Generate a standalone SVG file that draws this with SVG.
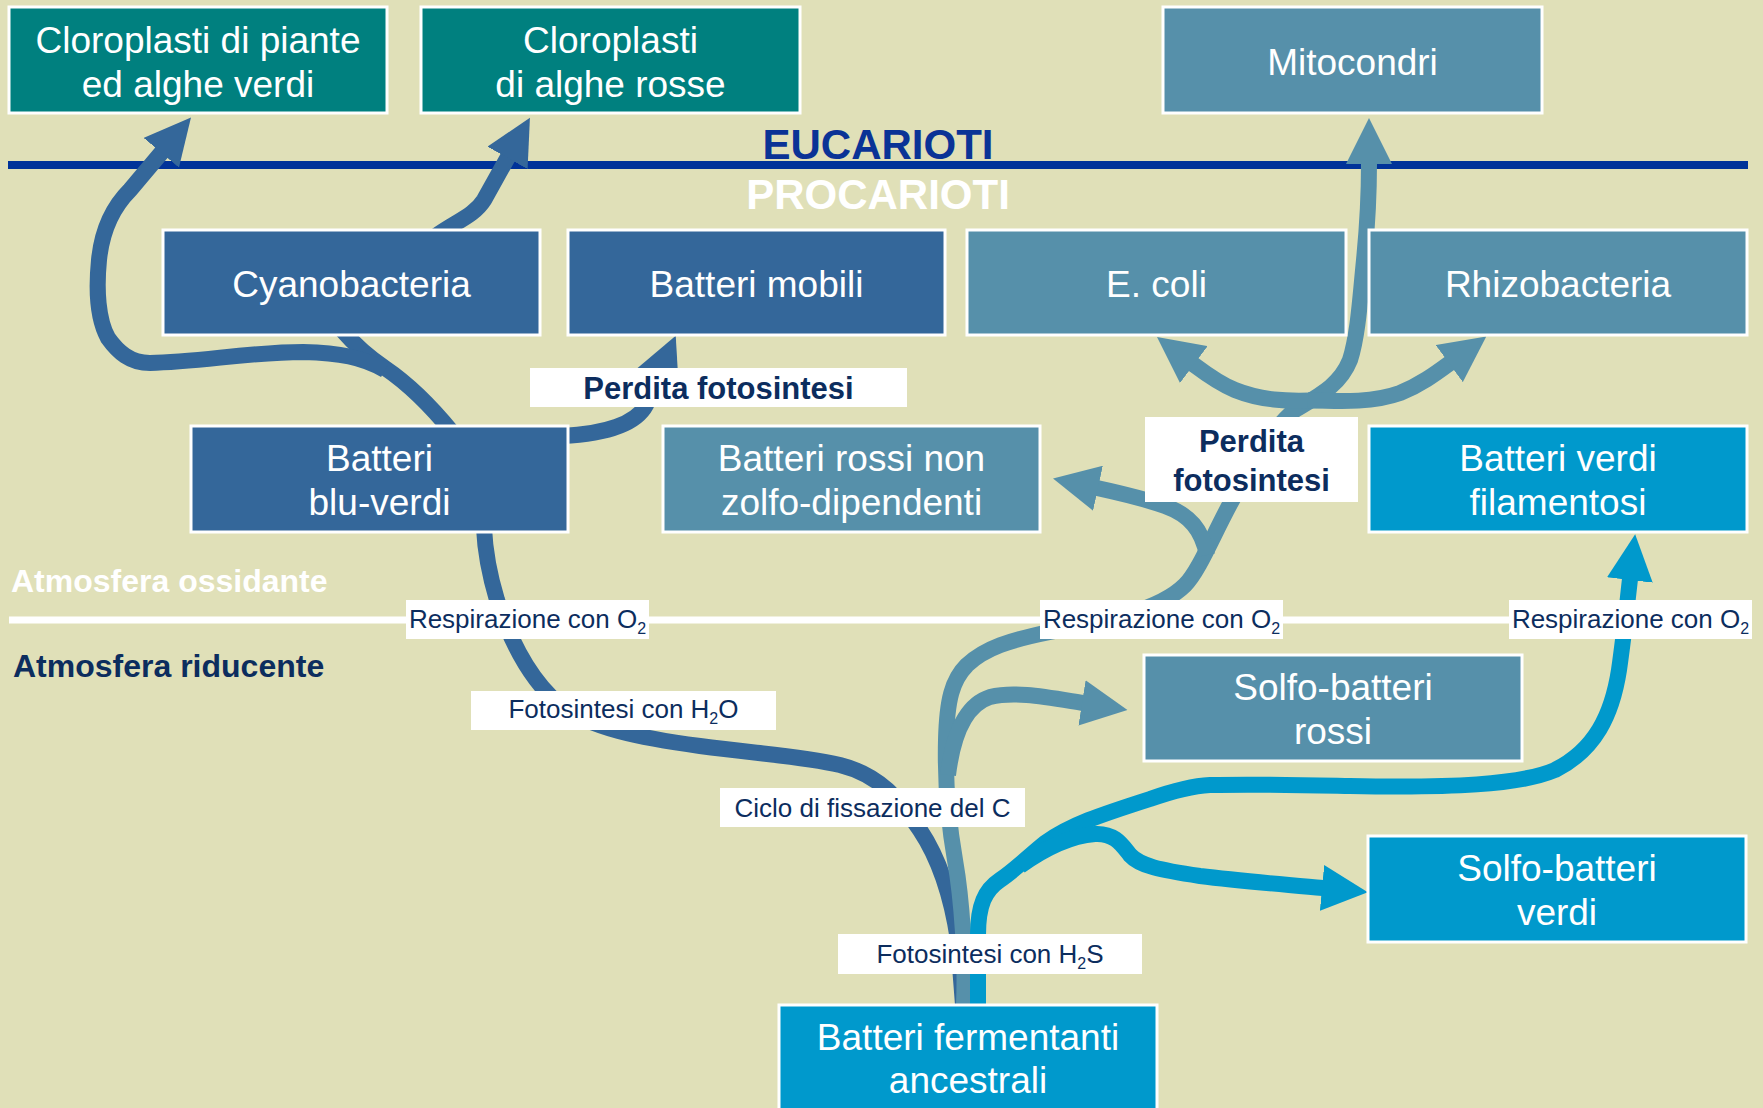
<svg xmlns="http://www.w3.org/2000/svg" width="1763" height="1108" viewBox="0 0 1763 1108">
<defs>
<style>
.bg{fill:#E0E0B8}
.box{stroke:#FFFFFF;stroke-width:3}
.teal{fill:#00807F}
.dark{fill:#34679A}
.steel{fill:#5690AA}
.bright{fill:#0099CC}
.nt{font-family:"Liberation Sans",Arial,sans-serif;font-size:37px;fill:#FFFFFF;text-anchor:middle}
.lb{fill:#FFFFFF}
.lt{font-family:"Liberation Sans",Arial,sans-serif;font-size:26px;fill:#0C2D5E;text-anchor:middle}
.sub{font-size:16px}
.pf{font-family:"Liberation Sans",Arial,sans-serif;font-size:31px;font-weight:bold;fill:#0C2D5E;text-anchor:middle}
.hd{font-family:"Liberation Sans",Arial,sans-serif;font-weight:bold}
.rib{fill:none;stroke-width:16;stroke-linecap:butt;stroke-linejoin:round}
.r-dark{stroke:#34679A}
.r-steel{stroke:#5690AA}
.r-bright{stroke:#0099CC}
</style>
<marker id="ah-dark" markerUnits="userSpaceOnUse" viewBox="0 0 46 46" markerWidth="46" markerHeight="46" refX="1" refY="23" orient="auto"><path d="M0,0 L46,23 L0,46 Z" fill="#34679A"/></marker>
<marker id="ah-steel" markerUnits="userSpaceOnUse" viewBox="0 0 46 46" markerWidth="46" markerHeight="46" refX="1" refY="23" orient="auto"><path d="M0,0 L46,23 L0,46 Z" fill="#5690AA"/></marker>
<marker id="ah-bright" markerUnits="userSpaceOnUse" viewBox="0 0 46 46" markerWidth="46" markerHeight="46" refX="1" refY="23" orient="auto"><path d="M0,0 L46,23 L0,46 Z" fill="#0099CC"/></marker>
</defs>

<rect class="bg" x="0" y="0" width="1763" height="1108"/>

<g id="dividers">
<line x1="8" y1="165" x2="1748" y2="165" stroke="#003399" stroke-width="8"/>
<line x1="9" y1="620" x2="1752" y2="620" stroke="#FFFFFF" stroke-width="7"/>
<text class="hd" x="878" y="159" font-size="42" fill="#0A3396" text-anchor="middle">EUCARIOTI</text>
<text class="hd" x="878" y="209" font-size="42" fill="#FFFFFF" text-anchor="middle">PROCARIOTI</text>
<text class="hd" x="11" y="592" font-size="32" fill="#FFFFFF">Atmosfera ossidante</text>
<text class="hd" x="13" y="677" font-size="32" fill="#0C2D5E">Atmosfera riducente</text>
</g>

<g id="connectors">
<!-- dark blue lineage -->
<path class="rib r-dark" d="M963,1005 L958,940 C952,900 940,860 920,830 C900,800 880,775 840,765 C800,756 760,754 700,746 C640,738 590,728 560,705 C530,680 510,640 497,600 C488,570 485,550 484,528"/>
<path class="rib r-dark" d="M452,432 C430,405 410,385 385,368 C370,358 355,345 342,330"/>
<path class="rib r-dark" marker-end="url(#ah-dark)" d="M385,370 C362,357 340,353 303,352 C250,352 200,362 150,363 C130,363 118,352 108,338 C98,320 96,290 99,260 C102,230 113,207 130,190 L162,152"/>
<path class="rib r-dark" marker-end="url(#ah-dark)" d="M436,236 C455,222 474,216 484,200 L508,157"/>
<path class="rib r-dark" marker-end="url(#ah-dark)" d="M562,436 C605,434 636,424 646,405 L658,377"/>
<!-- steel lineage -->
<path class="rib r-steel" marker-end="url(#ah-steel)" d="M964,1005 C966,960 962,900 955,860 C948,820 945,780 946,740 C947,700 952,680 967,665 C985,648 1010,640 1050,632 C1110,620 1160,610 1185,585 C1200,570 1215,530 1235,495 C1250,470 1270,430 1295,410 C1320,395 1340,385 1350,360 C1358,335 1360,300 1364,260 C1367,230 1369,200 1369,163"/>
<path class="rib r-steel" marker-end="url(#ah-steel)" d="M1207,555 C1202,530 1190,515 1165,506 C1145,499 1120,493 1097,488"/>
<path class="rib r-steel" marker-end="url(#ah-steel)" d="M1322,400 C1285,402 1260,400 1235,390 C1218,383 1205,373 1193,364"/>
<path class="rib r-steel" marker-end="url(#ah-steel)" d="M1308,400 C1345,402 1375,402 1400,393 C1420,385 1435,374 1450,363"/>
<path class="rib r-steel" marker-end="url(#ah-steel)" d="M948,775 C953,735 965,705 990,697 C1015,691 1045,697 1083,703"/>
<!-- bright lineage -->
<path class="rib r-bright" marker-end="url(#ah-bright)" d="M978,1005 L978,935 C978,905 985,890 1000,880 C1015,870 1030,855 1045,843 C1070,825 1100,815 1150,799 C1170,792 1190,786 1210,785 C1260,784 1300,785 1350,786 C1450,788 1520,785 1555,770 C1595,750 1612,715 1619,670 C1624,635 1627,605 1630,579"/>
<path class="rib r-bright" marker-end="url(#ah-bright)" d="M1020,866 C1045,848 1070,836 1095,834 C1115,833 1122,845 1130,855 C1140,866 1160,870 1200,876 C1240,881 1280,884 1323,888"/>
</g>

<g id="n-cloroplasti-piante"><rect class="box teal" x="9" y="7" width="378" height="106"/><text class="nt" x="198" y="53">Cloroplasti di piante</text><text class="nt" x="198" y="97">ed alghe verdi</text></g>
<g id="n-cloroplasti-alghe-rosse"><rect class="box teal" x="421" y="7" width="379" height="106"/><text class="nt" x="610.5" y="53">Cloroplasti</text><text class="nt" x="610.5" y="97">di alghe rosse</text></g>
<g id="n-mitocondri"><rect class="box steel" x="1163" y="7" width="379" height="106"/><text class="nt" x="1352.5" y="75">Mitocondri</text></g>
<g id="n-cyanobacteria"><rect class="box dark" x="163" y="230" width="377" height="105"/><text class="nt" x="351.5" y="297">Cyanobacteria</text></g>
<g id="n-batteri-mobili"><rect class="box dark" x="568" y="230" width="377" height="105"/><text class="nt" x="756.5" y="297">Batteri mobili</text></g>
<g id="n-ecoli"><rect class="box steel" x="967" y="230" width="379" height="105"/><text class="nt" x="1156.5" y="297">E. coli</text></g>
<g id="n-rhizobacteria"><rect class="box steel" x="1369" y="230" width="378" height="105"/><text class="nt" x="1558" y="297">Rhizobacteria</text></g>
<g id="n-blu-verdi"><rect class="box dark" x="191" y="426" width="377" height="106"/><text class="nt" x="379.5" y="471">Batteri</text><text class="nt" x="379.5" y="515">blu-verdi</text></g>
<g id="n-rossi-non-zolfo"><rect class="box steel" x="663" y="426" width="377" height="106"/><text class="nt" x="851.5" y="471">Batteri rossi non</text><text class="nt" x="851.5" y="515">zolfo-dipendenti</text></g>
<g id="n-verdi-filamentosi"><rect class="box bright" x="1369" y="426" width="378" height="106"/><text class="nt" x="1558" y="471">Batteri verdi</text><text class="nt" x="1558" y="515">filamentosi</text></g>
<g id="n-solfo-rossi"><rect class="box steel" x="1144" y="655" width="378" height="106"/><text class="nt" x="1333" y="700">Solfo-batteri</text><text class="nt" x="1333" y="744">rossi</text></g>
<g id="n-solfo-verdi"><rect class="box bright" x="1368" y="836" width="378" height="106"/><text class="nt" x="1557" y="881">Solfo-batteri</text><text class="nt" x="1557" y="925">verdi</text></g>
<g id="n-fermentanti"><rect class="box bright" x="779" y="1005" width="378" height="110"/><text class="nt" x="968" y="1050">Batteri fermentanti</text><text class="nt" x="968" y="1093">ancestrali</text></g>

<g id="labels">
<rect class="lb" x="530" y="368" width="377" height="39"/><text class="pf" x="718.5" y="399">Perdita fotosintesi</text>
<rect class="lb" x="1145" y="417" width="213" height="85"/><text class="pf" x="1251.5" y="452">Perdita</text><text class="pf" x="1251.5" y="491">fotosintesi</text>
<rect class="lb" x="406" y="600" width="243" height="39"/><text class="lt" x="527.5" y="628">Respirazione con O<tspan class="sub" dy="6">2</tspan></text>
<rect class="lb" x="1040" y="600" width="243" height="39"/><text class="lt" x="1161.5" y="628">Respirazione con O<tspan class="sub" dy="6">2</tspan></text>
<rect class="lb" x="1509" y="600" width="243" height="39"/><text class="lt" x="1630.5" y="628">Respirazione con O<tspan class="sub" dy="6">2</tspan></text>
<rect class="lb" x="471" y="691" width="305" height="39"/><text class="lt" x="623.5" y="718">Fotosintesi con H<tspan class="sub" dy="6">2</tspan><tspan dy="-6">O</tspan></text>
<rect class="lb" x="720" y="788" width="305" height="39"/><text class="lt" x="872.5" y="817">Ciclo di fissazione del C</text>
<rect class="lb" x="838" y="934" width="304" height="40"/><text class="lt" x="990" y="963">Fotosintesi con H<tspan class="sub" dy="6">2</tspan><tspan dy="-6">S</tspan></text>
</g>
</svg>
